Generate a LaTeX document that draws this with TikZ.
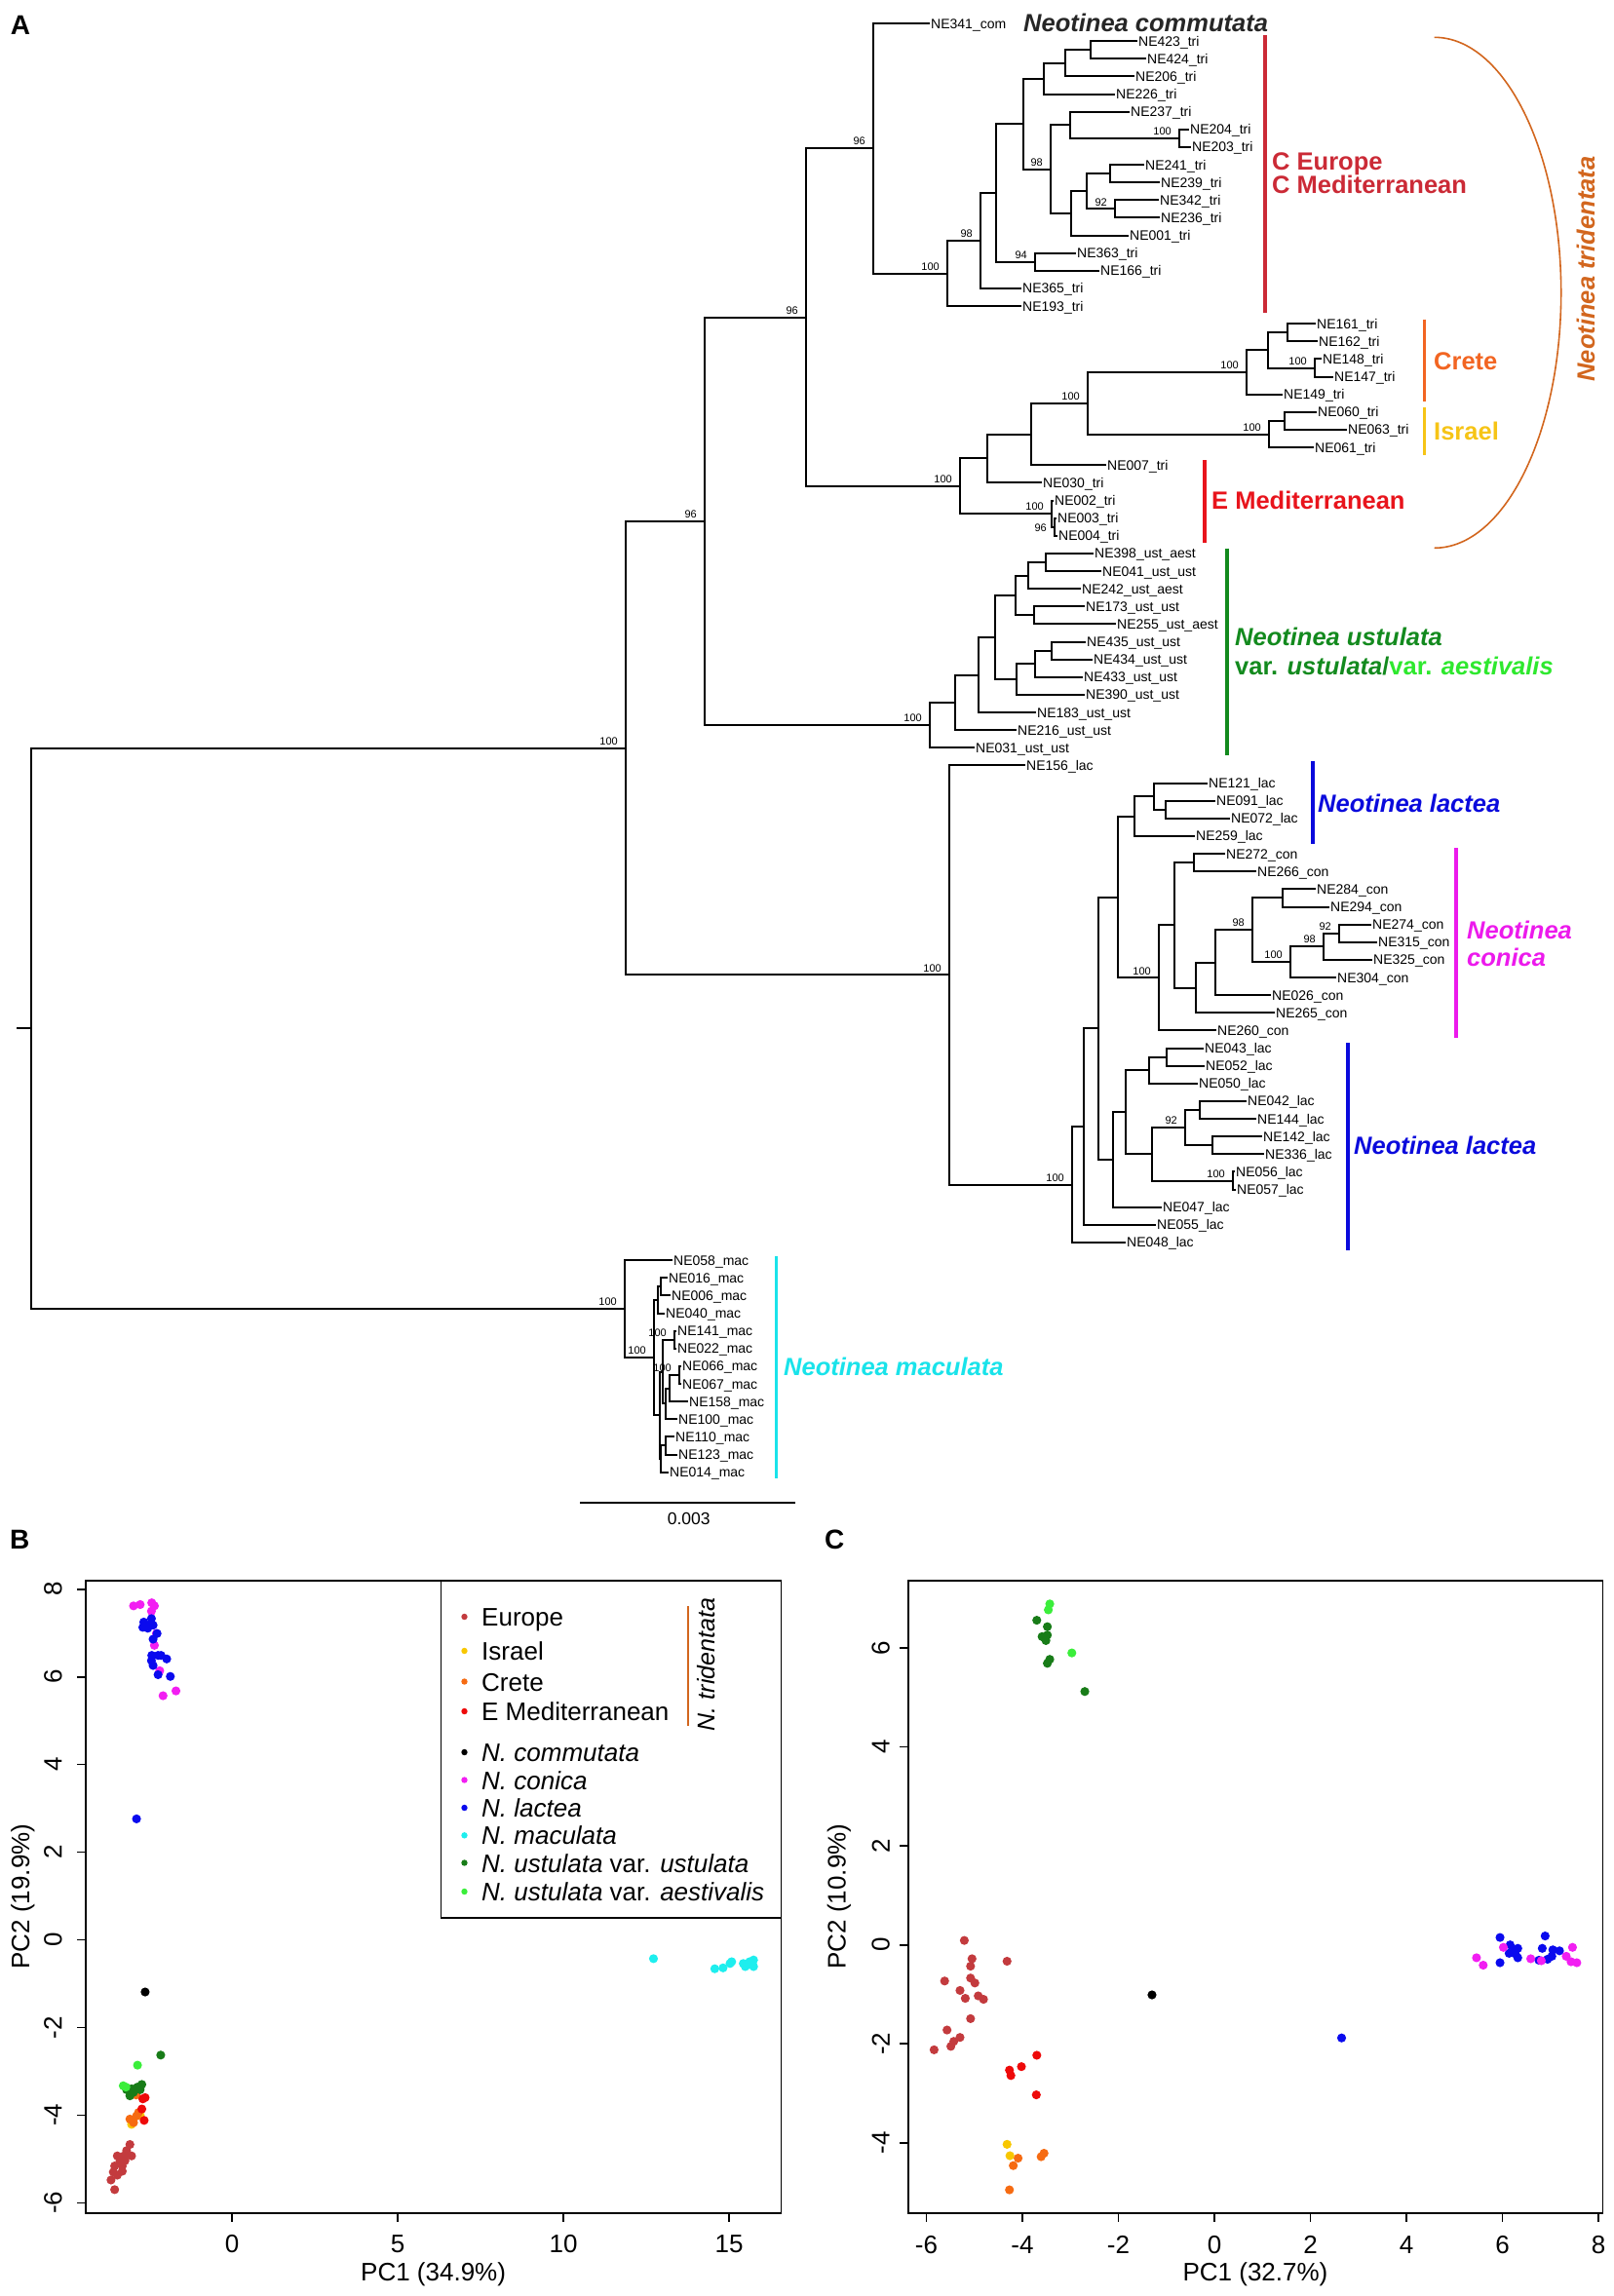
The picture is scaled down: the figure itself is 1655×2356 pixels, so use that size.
\documentclass[tikz,border=0pt]{standalone}
\usepackage{fontspec}
\setmainfont{Liberation Sans}
\usepackage{tikz}
\usetikzlibrary{calc,positioning}
\definecolor{treur}{HTML}{CB2A36}
\definecolor{emed}{HTML}{E8141C}
\definecolor{crete}{HTML}{F26522}
\definecolor{israel}{HTML}{F6C416}
\definecolor{tridc}{HTML}{D2661E}
\definecolor{ustd}{HTML}{138A1E}
\definecolor{ustl}{HTML}{2EE82E}
\definecolor{lact}{HTML}{0A0ADC}
\definecolor{coni}{HTML}{EC1AEC}
\definecolor{macu}{HTML}{19E3EA}
\definecolor{eur}{HTML}{C33B3E}
\definecolor{isr}{HTML}{F8C700}
\definecolor{cre}{HTML}{F66B12}
\definecolor{emd}{HTML}{EE0A0A}
\definecolor{com}{HTML}{000000}
\definecolor{con}{HTML}{F21EF2}
\definecolor{lac}{HTML}{0A0AEE}
\definecolor{mac}{HTML}{1EEEEE}
\definecolor{ust}{HTML}{187C18}
\definecolor{aes}{HTML}{3BEE3B}

\begin{document}
\begin{tikzpicture}[x=1pt,y=-1pt]
  \tikzstyle{leaf} = [anchor=west, inner sep=1pt, text height=10pt, text depth=0pt, font=\fontsize{14}{16}\selectfont]
  \tikzstyle{bsval} = [inner sep=0pt, font=\fontsize{11}{12}\selectfont]
  \tikzstyle{bs} = [bsval, anchor=south east, xshift=-8pt, yshift=3pt]
  \tikzstyle{br} = [line width=2pt]
  \tikzstyle{bar} = [line width=3.4pt]
  \tikzstyle{clade} = [anchor=base west, inner sep=0pt, font=\fontsize{25.5}{26}\selectfont\bfseries\itshape]
  \tikzstyle{region} = [anchor=base west, inner sep=0pt, font=\fontsize{25.5}{26}\selectfont\bfseries]
  \tikzstyle{panel} = [inner sep=0pt, font=\fontsize{28}{30}\selectfont\bfseries]
  \tikzstyle{frame} = [line width=1.6pt]
  \tikzstyle{tl} = [inner sep=0pt, font=\fontsize{26}{28}\selectfont]
  \tikzstyle{lg} = [anchor=base west, inner sep=0pt, font=\fontsize{26}{28}\selectfont]

  \useasboundingbox (0,0) rectangle (1655,2356);

  % A: tree
  \node[panel] (pA) at (21,25.5) {A};
  \begin{scope}[yshift=-24pt, y=-18.13pt]
    \foreach \x/\i/\n/\s in {954/0/NE341/com, 1167/1/NE423/tri, 1176/2/NE424/tri, 1164/3/NE206/tri,
      1144/4/NE226/tri, 1159/5/NE237/tri, 1220/6/NE204/tri, 1222/7/NE203/tri, 1174/8/NE241/tri,
      1190/9/NE239/tri, 1189/10/NE342/tri, 1190/11/NE236/tri, 1158/12/NE001/tri, 1104/13/NE363/tri,
      1128/14/NE166/tri, 1048/15/NE365/tri, 1048/16/NE193/tri, 1350/17/NE161/tri, 1352/18/NE162/tri,
      1356/19/NE148/tri, 1368/20/NE147/tri, 1316/21/NE149/tri, 1351/22/NE060/tri, 1382/23/NE063/tri,
      1348/24/NE061/tri, 1135/25/NE007/tri, 1069/26/NE030/tri, 1081/27/NE002/tri, 1084/28/NE003/tri,
      1085/29/NE004/tri, 1122/30/NE398/ust\_aest, 1130/31/NE041/ust\_ust, 1109/32/NE242/ust\_aest,
      1113/33/NE173/ust\_ust, 1145/34/NE255/ust\_aest, 1114/35/NE435/ust\_ust, 1121/36/NE434/ust\_ust,
      1111/37/NE433/ust\_ust, 1113/38/NE390/ust\_ust, 1063/39/NE183/ust\_ust, 1043/40/NE216/ust\_ust,
      1000/41/NE031/ust\_ust, 1052/42/NE156/lac, 1239/43/NE121/lac, 1247/44/NE091/lac, 1262/45/NE072/lac,
      1226/46/NE259/lac, 1257/47/NE272/con, 1289/48/NE266/con, 1350/49/NE284/con, 1364/50/NE294/con,
      1407/51/NE274/con, 1413/52/NE315/con, 1408/53/NE325/con, 1371/54/NE304/con, 1304/55/NE026/con,
      1308/56/NE265/con, 1248/57/NE260/con, 1235/58/NE043/lac, 1236/59/NE052/lac, 1229/60/NE050/lac,
      1279/61/NE042/lac, 1289/62/NE144/lac, 1295/63/NE142/lac, 1297/64/NE336/lac, 1267/65/NE056/lac,
      1268/66/NE057/lac, 1192/67/NE047/lac, 1186/68/NE055/lac, 1155/69/NE048/lac, 690/70/NE058/mac,
      685/71/NE016/mac, 688/72/NE006/mac, 682/73/NE040/mac, 694/74/NE141/mac, 694/75/NE022/mac,
      699/76/NE066/mac, 699/77/NE067/mac, 706/78/NE158/mac, 695/79/NE100/mac, 692/80/NE110/mac,
      695/81/NE123/mac, 686/82/NE014/mac}
      \node[leaf] (\n) at (\x,\i) {\n\_\s};

    \coordinate (stem) at (17,56.88);
    \foreach \n/\x/\i in {root/31.6/56.88, nA/642/41.01, nMac/641/72.76, nB/723/28.17, nLac/974/53.86,
      nT/827/16.63, nUst/954/39.72, nCom/896/7.07, nEm/985/26.19,
      ce1/972/14.15, ce2/1006/12.30, ce3/1022/9.59, ce4/1050/5.69, ce5/1071/3.125, ce6/1093/2.25,
      ce7/1119/1.5, ce8/1078/8.25, ce9/1098/5.75, ce10/1210/6.5, ce11/1099/10.75, ce12/1115/9.5,
      ce13/1139/8.5, ce15/1144/10.5, ce14/1062/13.5,
      em1/1013/24.625, em2/1058/23.25, em3/1116/21.5, cr1/1279/19.75, cr2/1301/18.5, cr3/1321/17.5,
      cr4/1349/19.5, is1/1302/23.25, is2/1318/22.5, em6/1079/27.75, em7/1082/28.5,
      us1/980/38.44, us2/1004/36.875, us3/1021/34.75, us4/1042/32.375, us5/1055/31.25, us8/1073/30.5,
      us6/1061/33.5, us7/1043/37.125, us9/1062/36.25, us10/1079/35.5,
      la2/1100/65.72, la3/1112/62.44, la4/1127/56.88, la5/1147/49.45, lc2/1164/44.875, lc3/1184/43.75,
      lc4/1195.5/44.5, co1/1189/54.02, co2/1205/51.04, co3/1225/47.5, co4/1227/54.58, co5/1247/53.16,
      co6/1285/51.31, co7/1316/49.5, co8/1324/53.125, co9/1358/52.25, co10/1374/51.5,
      lb1/1142/64.31, lb2/1155/61.625, lb3/1179/59.25, lb4/1197/58.5, lb5/1182/64, lb6/1216/62.5,
      lb7/1231/61.5, lb8/1244/63.5, lb9/1265/65.5,
      m1/671/75.52, m2/675/72.25, m3/678/71.5, m4/677/78.78, m5/680/76.31, m6/692/74.5, m7/683/78.125,
      m8/687/77.25, m11/697/76.5, m9/678/81.25, m10/683/80.5}
      \coordinate (\n) at (\x,\i);

    \draw[br] (stem) -- (root);
    \foreach \p/\c in {root/nA, root/nMac, nA/nB, nA/nLac, nB/nT, nB/nUst, nT/nCom, nT/nEm,
      nCom/NE341, nCom/ce1, ce1/ce2, ce1/NE193, ce2/ce3, ce2/NE365, ce3/ce4, ce3/ce14,
      ce4/ce5, ce4/ce8, ce5/ce6, ce5/NE226, ce6/ce7, ce6/NE206, ce7/NE423, ce7/NE424,
      ce8/ce9, ce8/ce11, ce9/NE237, ce9/ce10, ce10/NE204, ce10/NE203, ce11/ce12, ce11/NE001,
      ce12/ce13, ce12/ce15, ce13/NE241, ce13/NE239, ce15/NE342, ce15/NE236, ce14/NE363, ce14/NE166,
      nEm/em1, nEm/em6, em1/em2, em1/NE030, em2/em3, em2/NE007, em3/cr1, em3/is1,
      cr1/cr2, cr1/NE149, cr2/cr3, cr2/cr4, cr3/NE161, cr3/NE162, cr4/NE148, cr4/NE147,
      is1/is2, is1/NE061, is2/NE060, is2/NE063, em6/NE002, em6/em7, em7/NE003, em7/NE004,
      nUst/us1, nUst/NE031, us1/us2, us1/NE216, us2/us3, us2/NE183, us3/us4, us3/us7,
      us4/us5, us4/us6, us5/us8, us5/NE242, us8/NE398, us8/NE041, us6/NE173, us6/NE255,
      us7/us9, us7/NE390, us9/us10, us9/NE433, us10/NE435, us10/NE434,
      nLac/NE156, nLac/la2, la2/la3, la2/NE048, la3/la4, la3/NE055, la4/la5, la4/lb1,
      la5/lc2, la5/co1, lc2/lc3, lc2/NE259, lc3/NE121, lc3/lc4, lc4/NE091, lc4/NE072,
      co1/co2, co1/NE260, co2/co3, co2/co4, co3/NE272, co3/NE266, co4/co5, co4/NE265,
      co5/co6, co5/NE026, co6/co7, co6/co8, co7/NE284, co7/NE294, co8/co9, co8/NE304,
      co9/co10, co9/NE325, co10/NE274, co10/NE315,
      lb1/lb2, lb1/NE047, lb2/lb3, lb2/lb5, lb3/lb4, lb3/NE050, lb4/NE043, lb4/NE052,
      lb5/lb6, lb5/lb9, lb6/lb7, lb6/lb8, lb7/NE042, lb7/NE144, lb8/NE142, lb8/NE336,
      lb9/NE056, lb9/NE057,
      nMac/NE058, nMac/m1, m1/m2, m1/m4, m2/m3, m2/NE040, m3/NE016, m3/NE006,
      m4/m5, m4/m9, m5/m6, m5/m7, m6/NE141, m6/NE022, m7/m8, m7/NE100,
      m8/m11, m8/NE158, m11/NE066, m11/NE067, m9/m10, m9/NE014, m10/NE110, m10/NE123}
      \draw[br] (\p) |- (\c);

    \foreach \c/\v in {nA/100, nMac/100, nB/96, nT/96, nCom/96, ce1/100, ce2/98, ce8/98, ce15/92,
      ce14/94, ce10/100, nEm/100, em3/100, cr1/100, cr4/100, is1/100, em6/100, nUst/100, nLac/100,
      co1/100, co6/98, co8/100, co9/98, co10/92, la2/100, lb6/92, lb9/100, m1/100, m6/100, m11/100}
      \node[bs] (b-\c) at (\c) {\v};
    \node[bsval, anchor=east, xshift=-8pt, yshift=-1pt] (b-em7) at (em7) {96};
  \end{scope}

  % clades
  \node[clade, text=black!85] (lcom) at (1050,32) {Neotinea commutata};
  \draw[bar, treur] (1298,36) -- (1298,321);
  \node[region, text=treur] (lceu1) at (1305,174) {C Europe};
  \node[region, text=treur] (lceu2) at (1305,198) {C Mediterranean};
  \draw[bar, crete] (1461.7,327.6) -- (1461.7,412);
  \node[region, text=crete] (lcre) at (1471,379) {Crete};
  \draw[bar, israel] (1461.7,417.6) -- (1461.7,466.7);
  \node[region, text=israel] (lisr) at (1471,451) {Israel};
  \draw[bar, emed] (1236,472) -- (1236,556.7);
  \node[region, text=emed] (lemd) at (1243,522) {E Mediterranean};
  \draw[tridc, line width=1.6pt] (1471.7,38.3) arc[start angle=90, end angle=-90, x radius=130pt, y radius=262pt];
  \node[inner sep=0pt, rotate=90, text=tridc, font=\fontsize{25.5}{26}\selectfont\bfseries\itshape] (ltri) at (1627,276) {Neotinea tridentata};
  \draw[bar, ustd] (1259,562.7) -- (1259,775);
  \node[clade, text=ustd] (lust1) at (1267,662) {Neotinea ustulata};
  \node[region, text=ustd] (lust2) at (1267,692) {var. \textit{ustulata}/\textcolor{ustl}{var. \textit{aestivalis}}};
  \draw[bar, lact] (1347,780.7) -- (1347,866);
  \node[clade, text=lact] (llac1) at (1352,833) {Neotinea lactea};
  \draw[bar, coni] (1493.8,870) -- (1493.8,1065);
  \node[clade, text=coni] (lcon1) at (1505,963) {Neotinea};
  \node[clade, text=coni] (lcon2) at (1505,991) {conica};
  \draw[bar, lact] (1383,1070) -- (1383,1282.7);
  \node[clade, text=lact] (llac2) at (1389,1184) {Neotinea lactea};
  \draw[bar, macu] (796.7,1289) -- (796.7,1516.7);
  \node[clade, text=macu] (lmac) at (804,1411) {Neotinea maculata};

  \coordinate (s0) at (595,1541.7);
  \coordinate (s1) at (816,1541.7);
  \draw[line width=2pt] (s0) -- (s1);
  \node[inner sep=0pt, font=\fontsize{17.5}{19}\selectfont] (scale) at (706.7,1558) {0.003};

  % B: PCA all species
  \node[panel] (pB) at (20.3,1580.3) {B};
  \begin{scope}[shift={(238,1990.5)}, x=34pt, y=44.97pt]
    \draw[frame] (-4.415,-6.231) rectangle (16.568,8.199);
    \foreach \u in {0,5,10,15} {
      \draw[frame] (\u,-6.231) -- ++(0,-9pt);
      \node[tl] (bx\u) at ($(\u,-6.231)+(0,-32.3pt)$) {\u};
    }
    \foreach \v in {-6,-4,...,8} {
      \draw[frame] (-4.415,\v) -- ++(-9pt,0);
      \node[tl, rotate=90] (by\v) at ($(-4.415,\v)+(-33.5pt,0)$) {\v};
    }
    \foreach \c/\pts in {
      eur/{(-3.08,-4.67),(-3.18,-4.81),(-3.26,-4.93),(-3.46,-4.93),(-3.03,-4.93),(-3.38,-5.04),(-3.23,-5.04),(-3.54,-5.16),(-3.31,-5.16),(-3.31,-5.28),(-3.58,-5.30),(-3.46,-5.37),(-3.65,-5.48),(-3.54,-5.70)},
      isr/{(-2.77,-4.00),(-3.03,-4.21)},
      cre/{(-3.08,-4.09),(-2.97,-4.17),(-2.88,-4.02),(-2.82,-3.94),(-2.89,-3.54)},
      emd/{(-2.69,-3.63),(-2.72,-3.86),(-2.65,-4.12),(-2.62,-3.60)},
      ust/{(-2.15,-2.63),(-3.18,-3.42),(-3.03,-3.40),(-2.92,-3.40),(-2.85,-3.36),(-2.72,-3.30),(-2.77,-3.42),(-3.08,-3.56),(-2.97,-3.48)},
      aes/{(-2.85,-2.86),(-3.28,-3.33),(-3.20,-3.36)},
      com/{(-2.62,-1.19)},
      con/{(-2.97,7.62),(-2.77,7.65),(-2.42,7.69),(-2.34,7.62),(-2.43,7.50),(-2.28,6.99),(-2.34,6.72),(-2.18,6.14),(-2.08,5.57),(-1.69,5.68)},
      lac/{(-2.43,7.33),(-2.66,7.25),(-2.69,7.13),(-2.51,7.18),(-2.38,7.18),(-2.54,7.11),(-2.26,6.99),(-2.38,6.86),(-2.42,6.49),(-2.23,6.49),(-2.43,6.37),(-2.38,6.26),(-2.14,6.49),(-1.97,6.41),(-2.23,6.05),(-1.86,6.01),(-2.88,2.76)},
      mac/{(12.72,-0.43),(14.57,-0.66),(14.82,-0.64),(15.03,-0.54),(15.08,-0.50),(15.43,-0.54),(15.54,-0.58),(15.62,-0.50),(15.71,-0.56),(15.74,-0.46),(15.74,-0.61),(15.49,-0.61)}}
      \foreach \p in \pts \fill[\c] \p circle[radius=4.6pt];
  \end{scope}
  \node[tl] (bxt) at (444.6,2334) {PC1 (34.9\%)};
  \node[tl, rotate=90] (byt) at (23.5,1946) {PC2 (19.9\%)};

  \draw[frame, fill=white] (452.4,1621.8) rectangle (801.3,1968);
  \foreach \y/\b/\c/\t in {1659/1668/eur/Europe, 1694/1703.5/isr/Israel, 1725.5/1735/cre/Crete,
    1756/1765.5/emd/E Mediterranean, 1798/1807.5/com/\textit{N. commutata}, 1826.5/1836/con/\textit{N. conica},
    1855/1864.5/lac/\textit{N. lactea}, 1883.3/1892.5/mac/\textit{N. maculata},
    1911.5/1921/ust/{\textit{N. ustulata} var. \textit{ustulata}}, 1941/1950.5/aes/{\textit{N. ustulata} var. \textit{aestivalis}}} {
    \fill[\c] (476.5,\y) circle[radius=3.2pt];
    \node[lg] (lg-\c) at (494,\b) {\t};
  }
  \draw[tridc, line width=2pt] (705.7,1648) -- (705.7,1771);
  \node[inner sep=0pt, rotate=90, font=\fontsize{25}{26}\selectfont\itshape] (ntri) at (725,1708) {N. tridentata};

  % C: PCA without maculata
  \node[panel] (pC) at (856.2,1580.3) {C};
  \begin{scope}[shift={(1246,1995.7)}, x=49.25pt, y=50.78pt]
    \draw[frame] (-6.380,-5.415) rectangle (8.087,7.363);
    \foreach \u in {-6,-4,...,8} {
      \draw[frame] (\u,-5.415) -- ++(0,-9pt);
      \node[tl] (cx\u) at ($(\u,-5.415)+(0,-33pt)$) {\u};
    }
    \foreach \v in {-4,-2,...,6} {
      \draw[frame] (-6.380,\v) -- ++(-9pt,0);
      \node[tl, rotate=90] (cy\v) at ($(-6.380,\v)+(-28pt,0)$) {\v};
    }
    \foreach \c/\pts in {
      aes/{(-3.43,6.89),(-3.46,6.77),(-2.97,5.90)},
      ust/{(-3.70,6.56),(-3.48,6.43),(-3.59,6.23),(-3.54,6.21),(-3.48,6.26),(-3.51,6.15),(-3.43,5.77),(-3.48,5.69),(-2.70,5.12)},
      eur/{(-5.21,0.09),(-5.05,-0.28),(-5.08,-0.43),(-5.62,-0.73),(-5.08,-0.67),(-5.30,-0.92),(-4.99,-0.77),(-5.19,-1.08),(-4.92,-1.03),(-4.81,-1.10),(-5.08,-1.49),(-5.57,-1.72),(-5.30,-1.87),(-5.43,-1.95),(-5.49,-2.05),(-5.84,-2.12),(-4.32,-0.33)},
      emd/{(-3.70,-2.23),(-4.02,-2.46),(-4.27,-2.53),(-4.24,-2.64),(-3.71,-3.03)},
      isr/{(-4.32,-4.03),(-4.26,-4.26)},
      cre/{(-4.09,-4.31),(-4.19,-4.46),(-3.55,-4.21),(-3.61,-4.28),(-4.27,-4.95)},
      com/{(-1.30,-1.01)},
      lac/{(2.65,-1.88),(5.95,0.15),(6.16,0.00),(6.25,-0.10),(6.32,-0.07),(6.14,-0.17),(6.27,-0.18),(6.32,-0.26),(5.95,-0.36),(6.83,-0.07),(6.89,0.18),(6.94,-0.29),(7.03,-0.23),(7.05,-0.10),(7.19,-0.12),(6.76,-0.31)},
      con/{(5.46,-0.26),(5.60,-0.41),(6.02,-0.05),(6.59,-0.28),(6.81,-0.32),(7.33,-0.23),(7.46,-0.05),(7.43,-0.34),(7.55,-0.36)}}
      \foreach \p in \pts \fill[\c] \p circle[radius=4.6pt];
  \end{scope}
  \node[tl] (cxt) at (1288,2334) {PC1 (32.7\%)};
  \node[tl, rotate=90] (cyt) at (861,1946) {PC2 (10.9\%)};
\end{tikzpicture}
\end{document}
